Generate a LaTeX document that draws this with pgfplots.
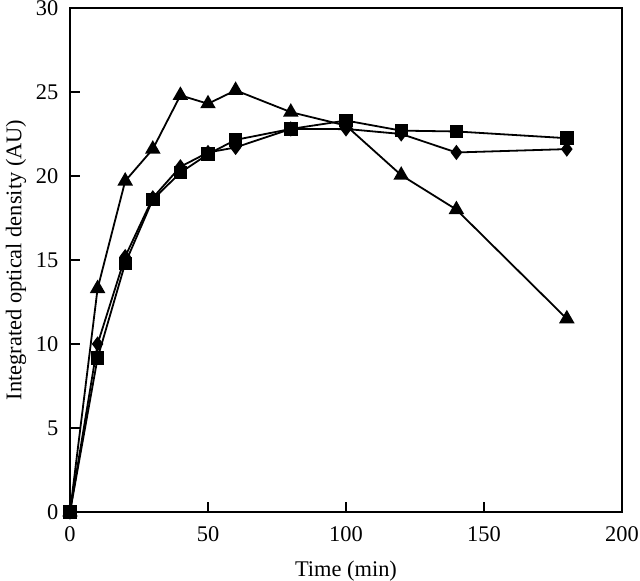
\documentclass[border=0pt]{standalone}
\usepackage{fontspec}
\setmainfont{Liberation Serif}
\usepackage{pgfplots}
\pgfplotsset{compat=1.18}
\begin{document}
\fontsize{11pt}{13pt}\selectfont
\begin{tikzpicture}
\begin{axis}[
  scale only axis,
  width=276pt, height=252pt,
  xmin=0, xmax=200, ymin=0, ymax=30,
  xtick={0,50,100,150,200}, ytick={0,5,...,30},
  tick align=inside,
  xtick pos=bottom, ytick pos=left,
  major tick length=5pt,
  axis line style={line width=0.9pt},
  tick style={line width=0.9pt, black},
  /pgf/number format/assume math mode=true,
  ticklabel style={font=\fontsize{11.2pt}{13pt}\selectfont},
  xticklabel style={yshift=-3.5pt},
  yticklabel style={xshift=-2pt},
  xlabel={Time (min)},
  ylabel={Integrated optical density (AU)},
  label style={font=\fontsize{11.2pt}{13pt}\selectfont},
  xlabel style={at={(axis description cs:0.5,-0.117)}, anchor=center},
  ylabel style={at={(axis description cs:-0.0978,0.5)}, anchor=center},
  every axis plot/.append style={black, line width=0.9pt, mark options={solid, fill=black}},
  clip=false,
]
\addplot[mark=triangle*, mark size=3.6pt] coordinates {
(0,0) (10,13.3) (20,19.7) (30,21.6) (40,24.8) (50,24.3) (60,25.1) (80,23.8) (100,23.0) (120,20.05) (140,18.0) (180,11.5)};
\addplot[mark=diamond*, mark size=3.1pt] coordinates {
(0,0) (10,10.0) (20,15.2) (30,18.7) (40,20.55) (50,21.4) (60,21.7) (80,22.8) (100,22.8) (120,22.5) (140,21.4) (180,21.6)};
\addplot[mark=square*, mark size=2.9pt] coordinates {
(0,0) (10,9.17) (20,14.8) (30,18.6) (40,20.2) (50,21.3) (60,22.15) (80,22.8) (100,23.3) (120,22.7) (140,22.65) (180,22.25)};
\end{axis}
\pgfresetboundingbox
\path ([shift={(-35pt,-34.5pt)}]current axis.south west) rectangle ([shift={(9pt,4pt)}]current axis.north east);
\end{tikzpicture}
\end{document}
